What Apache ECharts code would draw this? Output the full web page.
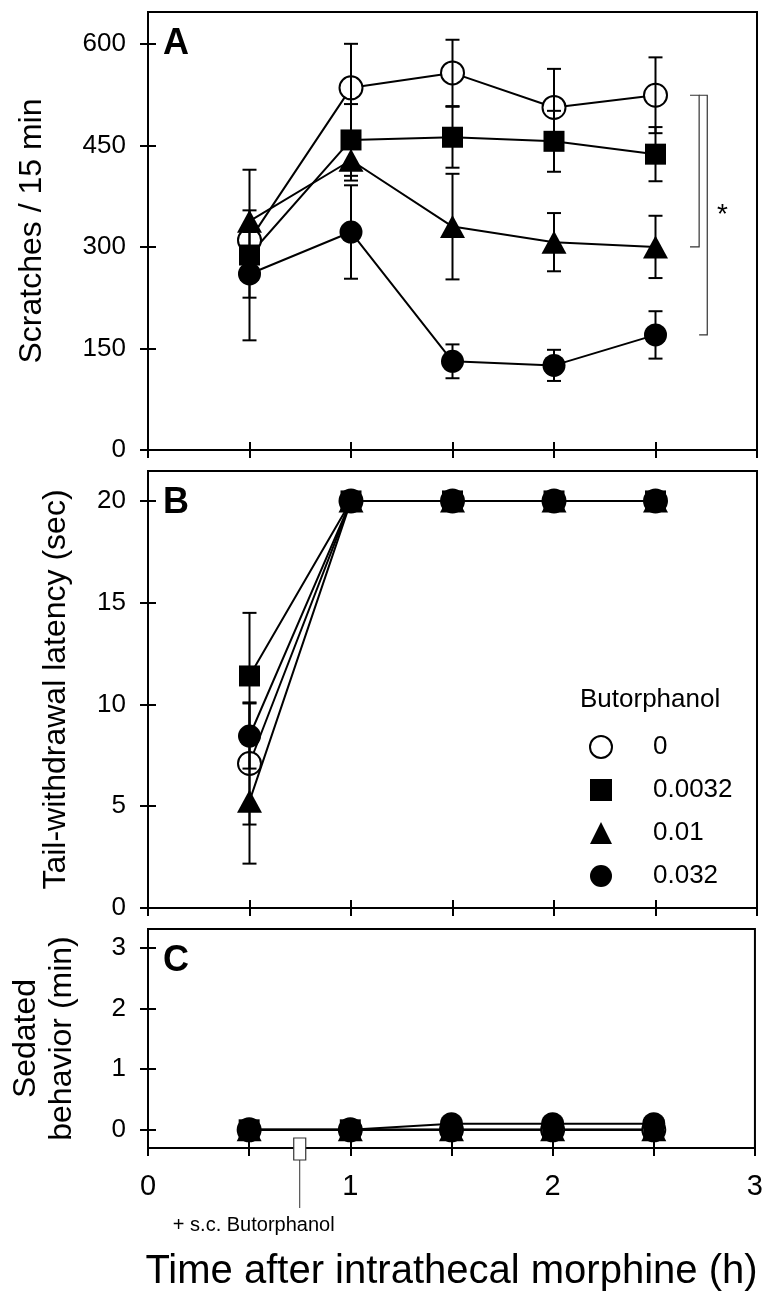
<!DOCTYPE html>
<html><head><meta charset="utf-8">
<script src="https://cdn.jsdelivr.net/npm/echarts@6/dist/echarts.min.js"></script>
<style>html,body{margin:0;padding:0;background:#fff}#chart{width:766px;height:1301px}</style>
</head><body><div id="chart"></div>
<script>
// ---------- data ----------
const timePoints = [0.5, 1, 1.5, 2, 2.5];
const doseNames = ['0', '0.0032', '0.01', '0.032'];
const xTicks = [0, 0.5, 1, 1.5, 2, 2.5, 3];
const xLabels = [0, 1, 2, 3];
const scratchTicks = [0, 150, 300, 450, 600];
const latencyTicks = [0, 5, 10, 15, 20];
const sedationTicks = [0, 1, 2, 3];

// Panel A: scratches / 15 min (mean, SEM)
const scratchMean0 = [310, 535, 557, 506, 524];
const scratchSem0 = [20, 65, 49, 57, 56];
const scratchMean0032 = [288, 458, 462, 456, 437];
const scratchSem0032 = [126, 53, 45, 45, 40];
const scratchMean001 = [338, 428, 330, 307, 300];
const scratchSem001 = [16, 30, 78, 43, 46];
const scratchMean032 = [260, 322, 131, 125, 170];
const scratchSem032 = [35, 69, 25, 23, 35];

// Panel B: tail-withdrawal latency (sec)
const latencyMean0 = [7.1, 20, 20, 20, 20];
const latencySem0 = [3.0, 0, 0, 0, 0];
const latencyMean0032 = [11.4, 20, 20, 20, 20];
const latencySem0032 = [3.1, 0, 0, 0, 0];
const latencyMean001 = [5.25, 20, 20, 20, 20];
const latencySem001 = [3.07, 0, 0, 0, 0];
const latencyMean032 = [8.45, 20, 20, 20, 20];
const latencySem032 = [1.6, 0, 0, 0, 0];

// Panel C: sedated behavior (min)
const sedationMean0 = [0, 0, 0, 0, 0];
const sedationMean0032 = [0, 0, 0, 0, 0];
const sedationMean001 = [0, 0, 0, 0, 0];
const sedationMean032 = [0, 0, 0.1, 0.1, 0.1];

const injectionTime = 0.75; // s.c. butorphanol

// ---------- styling / layout ----------
const FONT = '"Liberation Sans", Arial, sans-serif';
const BLACK = '#000';
const gridBoxes = [
  {left: 148, right: 9, top: 12, height: 438},
  {left: 148, right: 9, top: 471, height: 437},
  {left: 148, right: 9, top: 929, height: 219}
];
const yRanges = [[0, 647], [0, 21.47], [-0.3, 3.31]];
const yTickSets = [scratchTicks, latencyTicks, sedationTicks];
const yNames = ['Scratches / 15 min', 'Tail-withdrawal latency (sec)', 'Sedated\nbehavior (min)'];
const yNameGaps = [98, 74, 68];

const symbolStyles = {
  '0': {symbol: 'circle', symbolSize: 23, itemStyle: {color: '#fff', borderColor: BLACK, borderWidth: 2}},
  '0.0032': {symbol: 'rect', symbolSize: 21, itemStyle: {color: BLACK, borderColor: BLACK, borderWidth: 0}},
  '0.01': {symbol: 'triangle', symbolSize: [25, 23], itemStyle: {color: BLACK, borderColor: BLACK, borderWidth: 0}},
  '0.032': {symbol: 'circle', symbolSize: 23, itemStyle: {color: BLACK, borderColor: BLACK, borderWidth: 0}}
};

const tickLine = {color: BLACK, width: 2};

const xAxes = [];
const yAxes = [];
gridBoxes.forEach((g, gi) => {
  const last = gi === 2;
  const xBase = {gridIndex: gi, type: 'value', min: 0, max: 3, position: 'bottom', splitLine: {show: false}};
  xAxes.push(Object.assign({}, xBase, {
    axisLine: {onZero: false, lineStyle: tickLine},
    axisTick: {customValues: xTicks, length: 8, lineStyle: tickLine},
    axisLabel: last ? {customValues: xLabels, color: BLACK, fontSize: 29, margin: 24, fontFamily: FONT} : {show: false},
    name: last ? 'Time after intrathecal morphine (h)' : '',
    nameLocation: 'middle', nameGap: 104,
    nameTextStyle: {fontSize: 40, color: BLACK, fontFamily: FONT}
  }));
  xAxes.push(Object.assign({}, xBase, {
    axisLine: {show: false, onZero: false},
    axisTick: {inside: true, customValues: xTicks, length: 8, lineStyle: tickLine},
    axisLabel: {show: false}
  }));
  const yBase = {gridIndex: gi, type: 'value', min: yRanges[gi][0], max: yRanges[gi][1], position: 'left', splitLine: {show: false}};
  yAxes.push(Object.assign({}, yBase, {
    axisLine: {onZero: false, lineStyle: tickLine},
    axisTick: {customValues: yTickSets[gi], length: 8, lineStyle: tickLine},
    axisLabel: {customValues: yTickSets[gi], color: BLACK, fontSize: 26, margin: 22, fontFamily: FONT},
    name: yNames[gi], nameLocation: 'middle', nameGap: yNameGaps[gi],
    nameTextStyle: {fontSize: 32, color: BLACK, fontFamily: FONT, lineHeight: 36, align: 'center'}
  }));
  yAxes.push(Object.assign({}, yBase, {
    axisLine: {show: false, onZero: false},
    axisTick: {inside: true, customValues: yTickSets[gi], length: 8, lineStyle: tickLine},
    axisLabel: {show: false}
  }));
});

function lineSeries(gi, name, values) {
  const s = symbolStyles[name];
  return {
    type: 'line', name: name, xAxisIndex: gi * 2, yAxisIndex: gi * 2,
    data: timePoints.map((t, i) => [t, values[i]]),
    symbol: s.symbol, symbolSize: s.symbolSize, itemStyle: s.itemStyle,
    lineStyle: {color: BLACK, width: 2}, z: 3, silent: true, showAllSymbol: true
  };
}
function errorSeries(gi, name, mean, sem) {
  return {
    type: 'custom', name: 'err-' + gi + '-' + name, xAxisIndex: gi * 2, yAxisIndex: gi * 2, z: 4, silent: true,
    data: timePoints.map((t, i) => [t, mean[i], sem[i]]),
    renderItem: function (params, api) {
      const s = api.value(2);
      if (!s) return null;
      const x = api.value(0), m = api.value(1);
      const hi = api.coord([x, m + s]), lo = api.coord([x, m - s]);
      const w = 7, st = {stroke: BLACK, lineWidth: 2};
      return {type: 'group', children: [
        {type: 'line', shape: {x1: hi[0], y1: hi[1], x2: lo[0], y2: lo[1]}, style: st},
        {type: 'line', shape: {x1: hi[0] - w, y1: hi[1], x2: hi[0] + w, y2: hi[1]}, style: st},
        {type: 'line', shape: {x1: lo[0] - w, y1: lo[1], x2: lo[0] + w, y2: lo[1]}, style: st}
      ]};
    }
  };
}

const series = [];
const panelA = [[scratchMean0, scratchSem0], [scratchMean0032, scratchSem0032], [scratchMean001, scratchSem001], [scratchMean032, scratchSem032]];
const panelB = [[latencyMean0, latencySem0], [latencyMean0032, latencySem0032], [latencyMean001, latencySem001], [latencyMean032, latencySem032]];
const panelC = [sedationMean0, sedationMean0032, sedationMean001, sedationMean032];
doseNames.forEach((n, k) => {
  series.push(lineSeries(0, n, panelA[k][0]));
  series.push(errorSeries(0, n, panelA[k][0], panelA[k][1]));
  series.push(lineSeries(1, n, panelB[k][0]));
  series.push(errorSeries(1, n, panelB[k][0], panelB[k][1]));
  series.push(lineSeries(2, n, panelC[k]));
});

// significance brackets (panel A), anchored to the group means at the last time point
const lastIdx = timePoints.length - 1;
series.push({
  type: 'custom', name: 'brackets', xAxisIndex: 0, yAxisIndex: 0, silent: true, z: 2,
  data: [[scratchMean0[lastIdx], scratchMean001[lastIdx], scratchMean032[lastIdx]]],
  renderItem: function (params, api) {
    const top = api.value(0), b1 = api.value(1), b2 = api.value(2);
    const xa = 2.67, xb = 2.715, xc = 2.755, xs = 2.83;
    const st = {stroke: '#333', lineWidth: 1.2};
    const p = (x, y) => api.coord([x, y]);
    const star = p(xs, (top + b2) / 2);
    return {type: 'group', children: [
      {type: 'polyline', shape: {points: [p(xa, top), p(xb, top), p(xb, b1), p(xa, b1)]}, style: Object.assign({fill: null}, st)},
      {type: 'polyline', shape: {points: [p(xb, top), p(xc, top), p(xc, b2), p(xb, b2)]}, style: Object.assign({fill: null}, st)},
      {type: 'text', x: star[0], y: star[1], style: {text: '*', font: '28px ' + FONT, fill: BLACK, align: 'center', verticalAlign: 'middle'}}
    ]};
  }
});

// s.c. butorphanol injection marker (below panel C axis)
series.push({
  type: 'custom', name: 'injection', xAxisIndex: 4, yAxisIndex: 4, silent: true, z: 6, clip: false,
  data: [[injectionTime, yRanges[2][0]]],
  renderItem: function (params, api) {
    const c = api.coord([api.value(0), api.value(1)]);
    return {type: 'group', children: [
      {type: 'line', shape: {x1: c[0], y1: c[1] + 12, x2: c[0], y2: c[1] + 60}, style: {stroke: '#333', lineWidth: 1}},
      {type: 'rect', shape: {x: c[0] - 6, y: c[1] - 10, width: 12, height: 22}, style: {fill: '#fff', stroke: '#333', lineWidth: 1.2}},
      {type: 'text', x: c[0] - 46, y: c[1] + 77, style: {text: '+ s.c. Butorphanol', font: '20px ' + FONT, fill: BLACK, align: 'center', verticalAlign: 'middle'}}
    ]};
  }
});

const option = {
  animation: false,
  backgroundColor: '#fff',
  grid: gridBoxes.map(g => Object.assign({show: true, borderColor: BLACK, borderWidth: 2, backgroundColor: 'transparent', containLabel: false}, g)),
  xAxis: xAxes,
  yAxis: yAxes,
  legend: {
    orient: 'vertical', left: 584, top: 729, itemWidth: 22, itemHeight: 22, itemGap: 17, selectedMode: false,
    data: [
      {name: '0', icon: 'circle', itemStyle: {color: '#fff', borderColor: BLACK, borderWidth: 2}},
      {name: '0.0032', icon: 'rect', itemStyle: {color: BLACK}},
      {name: '0.01', icon: 'triangle', itemStyle: {color: BLACK}},
      {name: '0.032', icon: 'circle', itemStyle: {color: BLACK}}
    ],
    textStyle: {fontSize: 26, color: BLACK, fontFamily: FONT, padding: [0, 0, 0, 36]}
  },
  graphic: [
    {type: 'text', left: 580, top: 687, style: {text: 'Butorphanol', font: '26px ' + FONT, fill: BLACK}},
    {type: 'text', left: 163, top: 26, style: {text: 'A', font: 'bold 36px ' + FONT, fill: BLACK}},
    {type: 'text', left: 163, top: 485, style: {text: 'B', font: 'bold 36px ' + FONT, fill: BLACK}},
    {type: 'text', left: 163, top: 943, style: {text: 'C', font: 'bold 36px ' + FONT, fill: BLACK}}
  ],
  series: series
};

const chart = echarts.init(document.getElementById('chart'), null, {renderer: 'canvas', width: 766, height: 1301});
chart.setOption(option);
</script></body></html>
